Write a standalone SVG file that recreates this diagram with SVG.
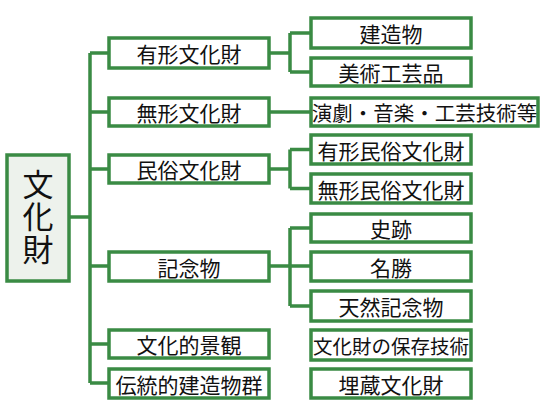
<svg xmlns="http://www.w3.org/2000/svg" width="547" height="414" viewBox="0 0 547 414">
<style>
.box{fill:#ffffff;stroke:#3a8b44;stroke-width:3.5}
.root{fill:#edf2ec;stroke:#3a8b44;stroke-width:3.5}
.t{font-family:"Noto Sans CJK JP","Noto Sans CJK SC",sans-serif;font-size:21px;fill:#111;text-anchor:middle;dominant-baseline:central}
.big{font-size:31px;writing-mode:vertical-rl;letter-spacing:1.5px}
.con{fill:none;stroke:#3a8b44;stroke-width:3.5}
</style>
<rect width="547" height="414" fill="#ffffff"/>
<g id="connectors">
<path class="con" d="M70 217H90M90 53V383M90 53H109M90 112H109M90 169H109M90 266H109M90 344H109M90 383H109"/>
<path class="con" d="M269 53H290M290 33V72M290 33H311M290 72H311"/>
<path class="con" d="M269 112H311"/>
<path class="con" d="M269 169H290M290 149.5V188.5M290 149.5H311M290 188.5H311"/>
<path class="con" d="M269 266H290M290 228V306M290 228H311M290 266H311M290 306H311"/>
</g>
<g id="n-root"><rect class="root" x="7" y="155" width="62" height="126"/>
<text class="t big" x="38" y="217">文化財</text></g>
<g id="n-yukei"><rect class="box" x="109" y="38" width="160" height="30"/><text class="t" x="189" y="53">有形文化財</text></g>
<g id="n-mukei"><rect class="box" x="109" y="98" width="160" height="28"/><text class="t" x="189" y="112">無形文化財</text></g>
<g id="n-minzoku"><rect class="box" x="109" y="155" width="160" height="28"/><text class="t" x="189" y="169">民俗文化財</text></g>
<g id="n-kinenbutsu"><rect class="box" x="109" y="252" width="160" height="29"/><text class="t" x="189" y="266.5">記念物</text></g>
<g id="n-keikan"><rect class="box" x="109" y="330" width="160" height="28"/><text class="t" x="189" y="344">文化的景観</text></g>
<g id="n-dentouteki"><rect class="box" x="109" y="369" width="160" height="29"/><text class="t" x="189" y="383.5">伝統的建造物群</text></g>
<g id="n-kenzoubutsu"><rect class="box" x="311" y="18" width="160" height="30"/><text class="t" x="391" y="33">建造物</text></g>
<g id="n-bijutsu"><rect class="box" x="311" y="58" width="160" height="28"/><text class="t" x="391" y="72">美術工芸品</text></g>
<g id="n-engeki"><rect class="box" x="311" y="98" width="227" height="28"/><text class="t" x="424.5" y="112" style="font-size:20.5px">演劇・音楽・工芸技術等</text></g>
<g id="n-yukei-minzoku"><rect class="box" x="311" y="135" width="160" height="29"/><text class="t" x="391" y="149.5">有形民俗文化財</text></g>
<g id="n-mukei-minzoku"><rect class="box" x="311" y="174" width="160" height="29"/><text class="t" x="391" y="188.5">無形民俗文化財</text></g>
<g id="n-shiseki"><rect class="box" x="311" y="214" width="160" height="28"/><text class="t" x="391" y="228">史跡</text></g>
<g id="n-meishou"><rect class="box" x="311" y="252" width="160" height="29"/><text class="t" x="391" y="266.5">名勝</text></g>
<g id="n-tennen"><rect class="box" x="311" y="291" width="160" height="30"/><text class="t" x="391" y="306">天然記念物</text></g>
<g id="n-hozon"><rect class="box" x="311" y="330" width="160" height="30"/><text class="t" x="391" y="345" style="font-size:19.5px">文化財の保存技術</text></g>
<g id="n-maizou"><rect class="box" x="311" y="369" width="160" height="29"/><text class="t" x="391" y="383.5">埋蔵文化財</text></g>
</svg>
